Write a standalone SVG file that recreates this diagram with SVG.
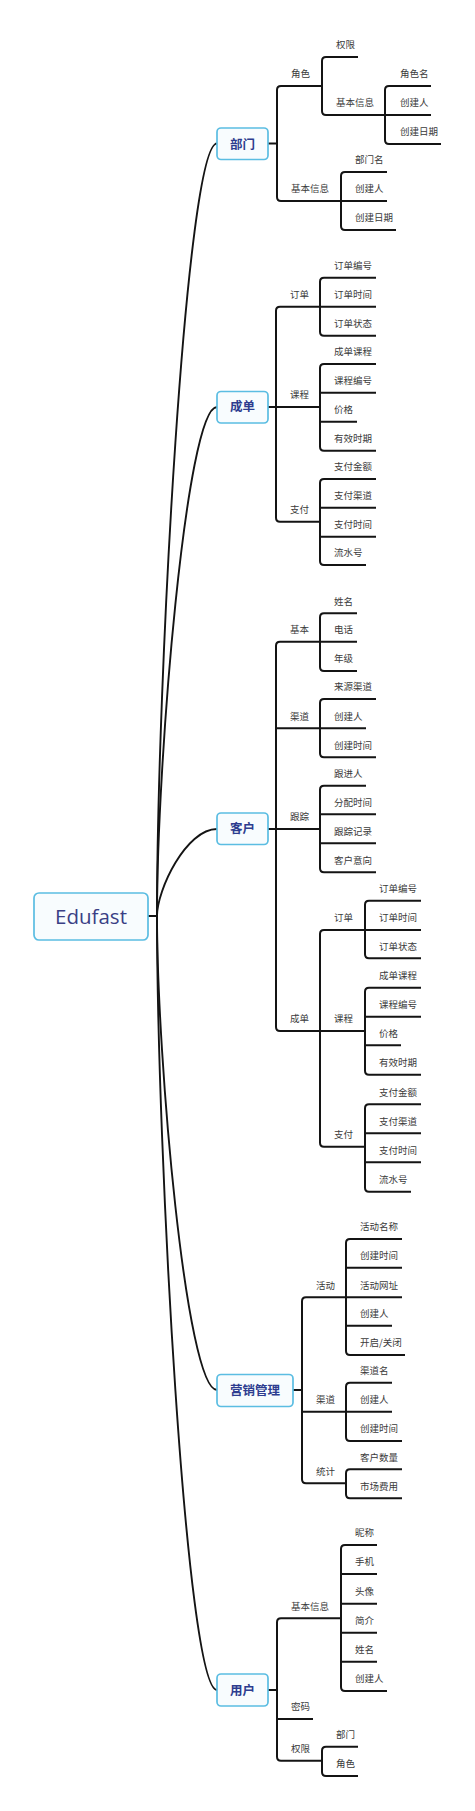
<svg xmlns="http://www.w3.org/2000/svg" width="475" height="1811" viewBox="0 0 475 1811">
<style>
.ln{fill:none;stroke:#141414;stroke-width:2;stroke-linecap:butt}
.cv{fill:none;stroke:#141414;stroke-width:1.9}
.box{fill:#f8fcfe;stroke:#5bbde2;stroke-width:1.7}
.mt{font-family:"Noto Sans CJK SC","Noto Sans",sans-serif;font-size:12.5px;font-weight:bold;fill:#2d3c8f;text-anchor:middle}
.lb{font-family:"Noto Sans CJK SC","Noto Sans",sans-serif;font-size:9.5px;fill:#3a3a3a}
.root{font-family:"Open Sans","Noto Sans",sans-serif;font-size:20.5px;fill:#3a3f85;text-anchor:middle}
</style>
<rect width="475" height="1811" fill="#ffffff"/>
<g id="connectors">
<path class="ln" d="M148,916 H157"/>
<path class="cv" d="M157,916 C157,684 186,143.5 217,143.5"/>
<path class="cv" d="M157,916 C157,763 186,407 217,407"/>
<path class="cv" d="M157,916 C157,890 186,829 217,829"/>
<path class="cv" d="M157,916 C157,1058 186,1390 217,1390"/>
<path class="cv" d="M157,916 C157,1148 186,1690 217,1690"/>
<!-- 部门 -->
<path class="ln" d="M268,143.5 H277"/>
<path class="ln" d="M322,86 H281 Q277,86 277,90 V197 Q277,201 281,201 H341"/>
<path class="ln" d="M358,57 H326 Q322,57 322,61 V111 Q322,115 326,115 H385"/>
<path class="ln" d="M431,86 H389 Q385,86 385,90 V140 Q385,144 389,144 H441 M385,115 H431"/>
<path class="ln" d="M387,172 H345 Q341,172 341,176 V226 Q341,230 345,230 H396 M341,201 H387"/>
<!-- 成单 -->
<path class="ln" d="M320,306.7 H280 Q276,306.7 276,310.7 V517.7 Q276,521.7 280,521.7 H320 M268,407 H320"/>
<path class="ln" d="M376,277.7 H324 Q320,277.7 320,281.7 V331.7 Q320,335.7 324,335.7 H376 M320,306.7 H376"/>
<path class="ln" d="M376,364 H324 Q320,364 320,368 V446.7 Q320,450.7 324,450.7 H376 M320,392.7 H376 M320,421.7 H357"/>
<path class="ln" d="M376,479 H324 Q320,479 320,483 V561 Q320,565 324,565 H366 M320,507.7 H376 M320,536.7 H376"/>
<!-- 客户 -->
<path class="ln" d="M320,641.7 H280 Q276,641.7 276,645.7 V1027 Q276,1031 280,1031 H320 M276,728.3 H320 M268,829 H320"/>
<path class="ln" d="M357,613.3 H324 Q320,613.3 320,617.3 V667 Q320,671 324,671 H357 M320,641.7 H357"/>
<path class="ln" d="M376,699 H324 Q320,699 320,703 V753.3 Q320,757.3 324,757.3 H376 M320,728.3 H366"/>
<path class="ln" d="M366,785.7 H324 Q320,785.7 320,789.7 V868.3 Q320,872.3 324,872.3 H376 M320,814.3 H376 M320,843.3 H376"/>
<path class="ln" d="M365,930 H324 Q320,930 320,934 V1142.7 Q320,1146.7 324,1146.7 H365 M320,1031 H365"/>
<path class="ln" d="M421,900.7 H369 Q365,900.7 365,904.7 V954.3 Q365,958.3 369,958.3 H421 M365,930 H421"/>
<path class="ln" d="M421,987.7 H369 Q365,987.7 365,991.7 V1070.7 Q365,1074.7 369,1074.7 H421 M365,1016.7 H421 M365,1045.3 H401"/>
<path class="ln" d="M421,1104.3 H369 Q365,1104.3 365,1108.3 V1187.7 Q365,1191.7 369,1191.7 H411 M365,1133.3 H421 M365,1162.3 H421"/>
<!-- 营销管理 -->
<path class="ln" d="M293,1390 H302"/>
<path class="ln" d="M346,1297.3 H306 Q302,1297.3 302,1301.3 V1479.3 Q302,1483.3 306,1483.3 H346 M302,1411.7 H346"/>
<path class="ln" d="M402,1239 H350 Q346,1239 346,1243 V1351 Q346,1355 350,1355 H405 M346,1267.7 H402 M346,1297.3 H402 M346,1325.7 H392"/>
<path class="ln" d="M392,1382.7 H350 Q346,1382.7 346,1386.7 V1437 Q346,1441 350,1441 H402 M346,1411.7 H392"/>
<path class="ln" d="M402,1469.3 H350 Q346,1469.3 346,1473.3 V1494.3 Q346,1498.3 350,1498.3 H402"/>
<!-- 用户 -->
<path class="ln" d="M268,1690 H277"/>
<path class="ln" d="M341,1618.3 H281 Q277,1618.3 277,1622.3 V1756.7 Q277,1760.7 281,1760.7 H322 M277,1719 H313"/>
<path class="ln" d="M377,1545 H345 Q341,1545 341,1549 V1687 Q341,1691 345,1691 H387 M341,1574 H377 M341,1603.7 H377 M341,1632.7 H377 M341,1661.7 H377"/>
<path class="ln" d="M358,1746.7 H326 Q322,1746.7 322,1750.7 V1772 Q322,1776 326,1776 H358"/>
</g>
<g id="root"><rect class="box" x="34" y="893" width="114" height="47" rx="5"/><text class="root" x="91" y="923.5">Edufast</text></g>
<g id="n-bumen"><rect class="box" x="217" y="128" width="51" height="31.5" rx="4"/><text class="mt" x="242.5" y="148.6">部门</text></g>
<g id="n-chengdan"><rect class="box" x="217" y="391.5" width="51" height="31.5" rx="4"/><text class="mt" x="242.5" y="411.4">成单</text></g>
<g id="n-kehu"><rect class="box" x="217" y="813" width="51" height="31.5" rx="4"/><text class="mt" x="242.5" y="833">客户</text></g>
<g id="n-yingxiao"><rect class="box" x="217" y="1374.5" width="76" height="32" rx="4"/><text class="mt" x="255" y="1394.7">营销管理</text></g>
<g id="n-yonghu"><rect class="box" x="217" y="1674" width="51" height="32" rx="4"/><text class="mt" x="242.5" y="1694.6">用户</text></g>
<g id="labels-bumen" class="lb">
<g id="b1"><text x="291" y="77.4">角色</text></g>
<g id="b2"><text x="336" y="48.4">权限</text></g>
<g id="b3"><text x="336" y="106.4">基本信息</text></g>
<g id="b4"><text x="400" y="77.4">角色名</text></g>
<g id="b5"><text x="400" y="106.4">创建人</text></g>
<g id="b6"><text x="400" y="135.4">创建日期</text></g>
<g id="b7"><text x="291" y="192.4">基本信息</text></g>
<g id="b8"><text x="355" y="163.4">部门名</text></g>
<g id="b9"><text x="355" y="192.4">创建人</text></g>
<g id="b10"><text x="355" y="221.4">创建日期</text></g>
</g>
<g id="labels-chengdan" class="lb">
<g id="c1"><text x="290" y="298.1">订单</text></g>
<g id="c2"><text x="334" y="269.1">订单编号</text></g>
<g id="c3"><text x="334" y="298.1">订单时间</text></g>
<g id="c4"><text x="334" y="327.1">订单状态</text></g>
<g id="c5"><text x="290" y="398.4">课程</text></g>
<g id="c6"><text x="334" y="355.4">成单课程</text></g>
<g id="c7"><text x="334" y="384.1">课程编号</text></g>
<g id="c8"><text x="334" y="413.1">价格</text></g>
<g id="c9"><text x="334" y="442.1">有效时期</text></g>
<g id="c10"><text x="290" y="513.1">支付</text></g>
<g id="c11"><text x="334" y="470.4">支付金额</text></g>
<g id="c12"><text x="334" y="499.1">支付渠道</text></g>
<g id="c13"><text x="334" y="528.1">支付时间</text></g>
<g id="c14"><text x="334" y="556.4">流水号</text></g>
</g>
<g id="labels-kehu" class="lb">
<g id="k1"><text x="290" y="633.1">基本</text></g>
<g id="k2"><text x="334" y="604.7">姓名</text></g>
<g id="k3"><text x="334" y="633.1">电话</text></g>
<g id="k4"><text x="334" y="662.4">年级</text></g>
<g id="k5"><text x="290" y="719.7">渠道</text></g>
<g id="k6"><text x="334" y="690.4">来源渠道</text></g>
<g id="k7"><text x="334" y="719.7">创建人</text></g>
<g id="k8"><text x="334" y="748.7">创建时间</text></g>
<g id="k9"><text x="290" y="820.4">跟踪</text></g>
<g id="k10"><text x="334" y="777.1">跟进人</text></g>
<g id="k11"><text x="334" y="805.7">分配时间</text></g>
<g id="k12"><text x="334" y="834.7">跟踪记录</text></g>
<g id="k13"><text x="334" y="863.7">客户意向</text></g>
<g id="k14"><text x="290" y="1022.4">成单</text></g>
<g id="k15"><text x="334" y="921.4">订单</text></g>
<g id="k16"><text x="379" y="892.1">订单编号</text></g>
<g id="k17"><text x="379" y="921.4">订单时间</text></g>
<g id="k18"><text x="379" y="949.7">订单状态</text></g>
<g id="k19"><text x="334" y="1022.4">课程</text></g>
<g id="k20"><text x="379" y="979.1">成单课程</text></g>
<g id="k21"><text x="379" y="1008.1">课程编号</text></g>
<g id="k22"><text x="379" y="1036.7">价格</text></g>
<g id="k23"><text x="379" y="1066.1">有效时期</text></g>
<g id="k24"><text x="334" y="1138.1">支付</text></g>
<g id="k25"><text x="379" y="1095.7">支付金额</text></g>
<g id="k26"><text x="379" y="1124.7">支付渠道</text></g>
<g id="k27"><text x="379" y="1153.7">支付时间</text></g>
<g id="k28"><text x="379" y="1183.1">流水号</text></g>
</g>
<g id="labels-yingxiao" class="lb">
<g id="y1"><text x="316" y="1288.7">活动</text></g>
<g id="y2"><text x="360" y="1230.4">活动名称</text></g>
<g id="y3"><text x="360" y="1259.1">创建时间</text></g>
<g id="y4"><text x="360" y="1288.7">活动网址</text></g>
<g id="y5"><text x="360" y="1317.1">创建人</text></g>
<g id="y6"><text x="360" y="1346.4">开启/关闭</text></g>
<g id="y7"><text x="316" y="1403.1">渠道</text></g>
<g id="y8"><text x="360" y="1374.1">渠道名</text></g>
<g id="y9"><text x="360" y="1403.1">创建人</text></g>
<g id="y10"><text x="360" y="1432.4">创建时间</text></g>
<g id="y11"><text x="316" y="1474.7">统计</text></g>
<g id="y12"><text x="360" y="1460.7">客户数量</text></g>
<g id="y13"><text x="360" y="1489.7">市场费用</text></g>
</g>
<g id="labels-yonghu" class="lb">
<g id="u1"><text x="291" y="1609.7">基本信息</text></g>
<g id="u2"><text x="355" y="1536.4">昵称</text></g>
<g id="u3"><text x="355" y="1565.4">手机</text></g>
<g id="u4"><text x="355" y="1595.1">头像</text></g>
<g id="u5"><text x="355" y="1624.1">简介</text></g>
<g id="u6"><text x="355" y="1653.1">姓名</text></g>
<g id="u7"><text x="355" y="1682.4">创建人</text></g>
<g id="u8"><text x="291" y="1710.4">密码</text></g>
<g id="u9"><text x="291" y="1752.1">权限</text></g>
<g id="u10"><text x="336" y="1738.1">部门</text></g>
<g id="u11"><text x="336" y="1767.4">角色</text></g>
</g>
</svg>
